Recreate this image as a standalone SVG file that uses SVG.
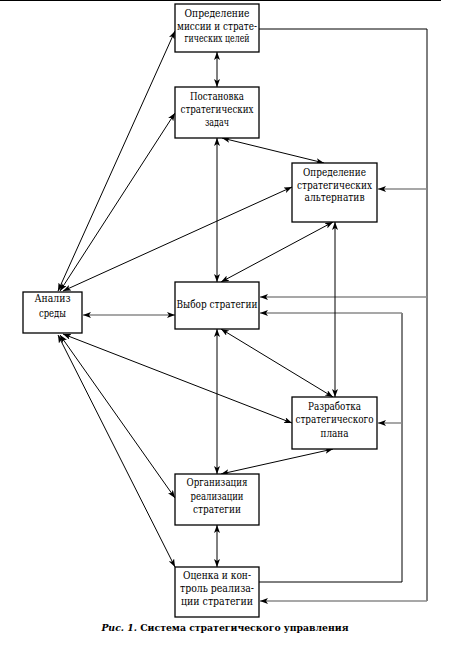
<svg xmlns="http://www.w3.org/2000/svg" width="457" height="647" viewBox="0 0 457 647">
<style>
.box{fill:#fff;stroke:#000;stroke-width:1.3}
.t{font-family:'DejaVu Serif Condensed','DejaVu Serif',serif;font-stretch:condensed;font-size:10.5px;fill:#000;text-anchor:middle}
.c{stroke:#000;stroke-width:1;fill:none}
.g{stroke:#8a8a8a;stroke-width:1.5;fill:none}
.b{marker-start:url(#ah);marker-end:url(#ah)}
.e{marker-end:url(#ah)}
.cap{font-family:'DejaVu Serif',serif;font-size:9.3px;font-weight:bold;fill:#000;text-anchor:middle}
</style>
<defs>
<marker id="ah" markerWidth="8" markerHeight="6" refX="8" refY="3" orient="auto-start-reverse" markerUnits="userSpaceOnUse">
<path d="M0,0 L8,3 L0,6 L2,3 z" fill="#000"/>
</marker>
</defs>
<rect width="457" height="647" fill="#fff"/>
<line x1="0" y1="0.5" x2="441" y2="0.5" stroke="#000" stroke-width="1"/>
<g id="connectors">
<path class="c" d="M259,29 H427 V601"/>
<path class="g e" d="M427,601 H260"/>
<path class="g e" d="M427,189 H378"/>
<path class="g e" d="M427,297 H260"/>
<path class="c" d="M259,582 H402 V313"/>
<path class="g e" d="M402,313 H260"/>
<path class="g e" d="M402,423 H378"/>
<path class="g b" d="M83,315 H175"/>
<path class="c b" d="M58,291 L175,31"/>
<path class="c b" d="M60,291 L175,113"/>
<path class="c b" d="M63,291 L292,187"/>
<path class="c b" d="M63,334 L292,423"/>
<path class="c b" d="M60,335 L175,498"/>
<path class="c b" d="M58,335 L175,567"/>
<path class="c b" d="M217,52 V87"/>
<path class="c b" d="M217,138 V282"/>
<path class="c b" d="M217,329 V474"/>
<path class="c b" d="M217,525 V567"/>
<path class="c b" d="M222,138 L324,163"/>
<path class="c b" d="M333,222 L221,282"/>
<path class="c b" d="M335,222 V397"/>
<path class="c b" d="M221,329 L333,397"/>
<path class="c b" d="M333,449 L221,474"/>
</g>
<g id="n1"><rect class="box" x="175" y="4" width="84" height="48"/>
<text class="t" x="217" y="17" textLength="65" lengthAdjust="spacingAndGlyphs">Определение</text><text class="t" x="217" y="29.5" textLength="80" lengthAdjust="spacingAndGlyphs">миссии и страте-</text><text class="t" x="217" y="42" textLength="65" lengthAdjust="spacingAndGlyphs">гических целей</text></g>
<g id="n2"><rect class="box" x="175" y="87" width="84" height="51"/>
<text class="t" x="217" y="100" textLength="54" lengthAdjust="spacingAndGlyphs">Постановка</text><text class="t" x="217" y="113" textLength="73" lengthAdjust="spacingAndGlyphs">стратегических</text><text class="t" x="217" y="126" textLength="24" lengthAdjust="spacingAndGlyphs">задач</text></g>
<g id="n3"><rect class="box" x="292" y="163" width="85" height="59"/>
<text class="t" x="334.5" y="176" textLength="63" lengthAdjust="spacingAndGlyphs">Определение</text><text class="t" x="334.5" y="188.5" textLength="75" lengthAdjust="spacingAndGlyphs">стратегических</text><text class="t" x="334.5" y="201" textLength="60" lengthAdjust="spacingAndGlyphs">альтернатив</text></g>
<g id="n4"><rect class="box" x="23" y="292" width="59" height="41"/>
<text class="t" x="52.5" y="302" textLength="36" lengthAdjust="spacingAndGlyphs">Анализ</text><text class="t" x="52.5" y="317" textLength="27" lengthAdjust="spacingAndGlyphs">среды</text></g>
<g id="n5"><rect class="box" x="175" y="282" width="84" height="47"/>
<text class="t" x="217" y="308" textLength="81" lengthAdjust="spacingAndGlyphs">Выбор стратегии</text></g>
<g id="n6"><rect class="box" x="292" y="397" width="85" height="52"/>
<text class="t" x="334.5" y="410" textLength="53" lengthAdjust="spacingAndGlyphs">Разработка</text><text class="t" x="334.5" y="423" textLength="78" lengthAdjust="spacingAndGlyphs">стратегического</text><text class="t" x="334.5" y="437" textLength="28" lengthAdjust="spacingAndGlyphs">плана</text></g>
<g id="n7"><rect class="box" x="175" y="474" width="84" height="51"/>
<text class="t" x="217" y="486" textLength="61" lengthAdjust="spacingAndGlyphs">Организация</text><text class="t" x="217" y="500" textLength="53" lengthAdjust="spacingAndGlyphs">реализации</text><text class="t" x="217" y="513" textLength="48" lengthAdjust="spacingAndGlyphs">стратегии</text></g>
<g id="n8"><rect class="box" x="175" y="567" width="84" height="50"/>
<text class="t" x="217" y="579" textLength="68" lengthAdjust="spacingAndGlyphs">Оценка и кон-</text><text class="t" x="217" y="592" textLength="74" lengthAdjust="spacingAndGlyphs">троль реализа-</text><text class="t" x="217" y="605" textLength="72" lengthAdjust="spacingAndGlyphs">ции стратегии</text></g>
<text class="cap" x="225" y="631"><tspan font-style="italic">Рис. 1.</tspan> Система стратегического управления</text>
</svg>
